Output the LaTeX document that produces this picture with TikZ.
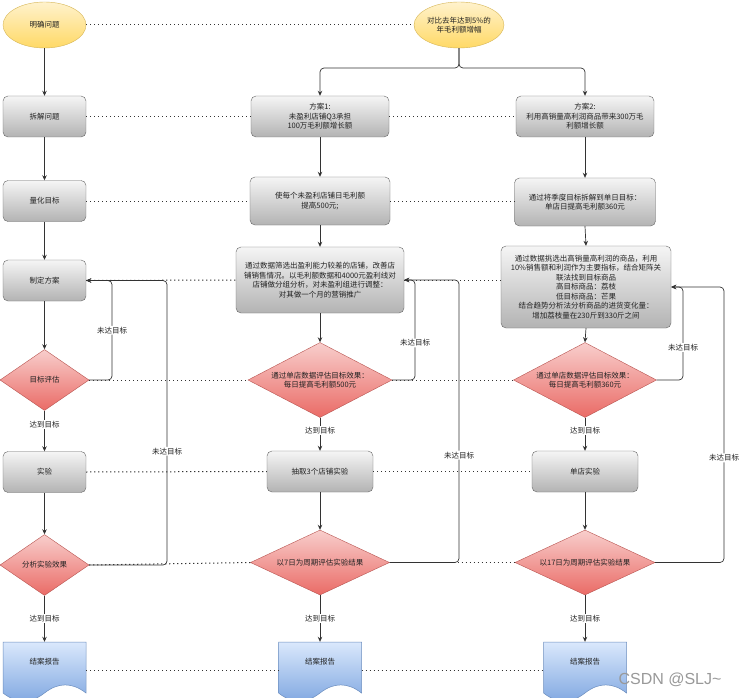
\documentclass[tikz,border=0pt]{standalone}
\usepackage{fontspec}
\setmainfont{Liberation Sans}
\newfontfamily\cjk{Noto Sans CJK SC}
\usetikzlibrary{shapes.geometric,arrows.meta,calc}
\definecolor{linec}{HTML}{333333}
\definecolor{txtc}{HTML}{222222}
\definecolor{boxtop}{HTML}{F5F5F5}
\definecolor{boxbot}{HTML}{B3B3B3}
\definecolor{boxdraw}{HTML}{666666}
\definecolor{elltop}{HTML}{FFF2CC}
\definecolor{ellbot}{HTML}{FFD966}
\definecolor{elldraw}{HTML}{D6B656}
\definecolor{diatop}{HTML}{F8CECC}
\definecolor{diabot}{HTML}{EA6B66}
\definecolor{diadraw}{HTML}{B85450}
\definecolor{doctop}{HTML}{DAE8FC}
\definecolor{docbot}{HTML}{7EA6E0}
\definecolor{docdraw}{HTML}{6C8EBF}
\tikzset{
  base/.style={font=\cjk\fontsize{7.5}{9.5}\selectfont, text=txtc, align=center, inner sep=1pt},
  procbox/.style={base, rectangle, rounded corners=5pt, draw=boxdraw, top color=boxtop, bottom color=boxbot},
  startell/.style={base, ellipse, draw=elldraw, top color=elltop, bottom color=ellbot, inner sep=0pt},
  decide/.style={base, diamond, aspect=2, inner sep=0pt, draw=diadraw, top color=diatop, bottom color=diabot},
  docfill/.style={draw=docdraw, top color=doctop, bottom color=docbot, line width=0.5pt},
  arr/.style={draw=linec, line width=0.7pt, -{Stealth[length=5pt,width=4.5pt]}},
  loopline/.style={arr, rounded corners=4pt},
  dotline/.style={draw=linec, line width=1pt, dash pattern=on 1.2pt off 2.8pt},
  lab/.style={font=\cjk\fontsize{7.5}{9}\selectfont, text=txtc, fill=white, inner sep=1pt}
}
\begin{document}
\begin{tikzpicture}[x=1pt,y=-1pt]
\useasboundingbox (0,0) rectangle (742,698);
\fill[white] (0,0) rectangle (742,698);

% documents (wavy bottoms)
\shade[docfill] (3,642) -- (86,642) -- (86,693) .. controls (72.2,682.2) and (58.3,682.2) .. (44.5,693) .. controls (30.7,703.8) and (16.8,703.8) .. (3,693) -- cycle;
\shade[docfill] (278.5,642) -- (361.5,642) -- (361.5,693) .. controls (347.7,682.2) and (333.8,682.2) .. (320,693) .. controls (306.2,703.8) and (292.3,703.8) .. (278.5,693) -- cycle;
\shade[docfill] (543.5,642) -- (626.5,642) -- (626.5,693) .. controls (612.7,682.2) and (598.8,682.2) .. (585,693) .. controls (571.2,703.8) and (557.3,703.8) .. (543.5,693) -- cycle;

% column 1
\node[startell, minimum width=83, minimum height=46] (e1) at (44.5,25) {明确问题};
\node[procbox, minimum width=83, minimum height=41] (b11) at (44.5,116.5) {拆解问题};
\node[procbox, minimum width=83, minimum height=41] (b21) at (44.5,201) {量化目标};
\node[procbox, minimum width=83, minimum height=41] (b31) at (44.5,280.5) {制定方案};
\node[decide, minimum width=89, minimum height=61] (d11) at (44.5,380) {目标评估};
\node[procbox, minimum width=83, minimum height=41] (b41) at (44.5,472) {实验};
\node[decide, minimum width=89, minimum height=61] (d21) at (44.5,565) {分析实验效果};
\node[base, minimum width=83, minimum height=40] (doc1) at (44.5,662) {结案报告};

% column 2
\node[startell, minimum width=80, minimum height=46] (e2) at (459,25) {对比去年达到5\%的\\年毛利额增幅};
\node[procbox, minimum width=138, minimum height=41] (p1) at (320,116.5) {方案1:\\未盈利店铺Q3承担\\100万毛利额增长额};
\node[procbox, minimum width=140, minimum height=48] (q1) at (320,201) {使每个未盈利店铺日毛利额\\提高500元;};
\node[procbox, minimum width=168, minimum height=66] (m1) at (320,280) {通过数据筛选出盈利能力较差的店铺，改善店\\铺销售情况。以毛利额数据和4000元盈利线对\\店铺做分组分析，对未盈利组进行调整：\\对其做一个月的营销推广};
\node[decide, minimum width=144, minimum height=75] (d12) at (320,380) {通过单店数据评估目标效果：\\每日提高毛利额500元};
\node[procbox, minimum width=106, minimum height=41] (x1) at (320,471.5) {抽取3个店铺实验};
\node[decide, minimum width=139, minimum height=65] (d22) at (320,562.5) {以7日为周期评估实验结果};
\node[base, minimum width=83, minimum height=40] (doc2) at (320,662) {结案报告};

% column 3
\node[procbox, minimum width=138, minimum height=41] (p2) at (585,116.5) {方案2:\\利用高销量高利润商品带来300万毛\\利额增长额};
\node[procbox, minimum width=141, minimum height=48] (q2) at (585,202) {通过将季度目标拆解到单日目标：\\单店日提高毛利额360元};
\node[procbox, minimum width=170, minimum height=82] (m2) at (586,287) {通过数据挑选出高销量高利润的商品，利用\\10\%销售额和利润作为主要指标，结合矩阵关\\联法找到目标商品\\高目标商品：荔枝\\低目标商品：芒果\\结合趋势分析法分析商品的进货变化量：\\增加荔枝量在230斤到330斤之间};
\node[decide, minimum width=143, minimum height=75] (d13) at (585,380) {通过单店数据评估目标效果：\\每日提高毛利额360元};
\node[procbox, minimum width=106, minimum height=41] (x2) at (585,471.5) {单店实验};
\node[decide, minimum width=140, minimum height=65] (d23) at (585,562.5) {以17日为周期评估实验结果};
\node[base, minimum width=83, minimum height=40] (doc3) at (585,662) {结案报告};

% dotted row links
\draw[dotline] (e1.east) -- (e2.west);
\draw[dotline] (b11.east) -- (p1.west);
\draw[dotline] (p1.east) -- (p2.west);
\draw[dotline] (b21.east) -- (q1.west);
\draw[dotline] (q1.east) -- (q2.west |- q1.east);
\draw[dotline] (b31.east) -- (m1.west);
\draw[dotline] (m1.east) -- (m2.west |- m1.east);
\draw[dotline] (d11.east) -- (d12.west);
\draw[dotline] (d12.east) -- (d13.west);
\draw[dotline] (b41.east) -- (x1.west);
\draw[dotline] (x1.east) -- (x2.west);
\draw[dotline] (d21.east) -- (d22.west);
\draw[dotline] (d22.east) -- (d23.west);
\draw[dotline] ([yshift=-8pt]doc1.east) -- ([yshift=-8pt]doc2.west);
\draw[dotline] ([yshift=-8pt]doc2.east) -- ([yshift=-8pt]doc3.west);

% column 1 flow
\draw[arr] (e1.south) -- (b11.north);
\draw[arr] (b11.south) -- (b21.north);
\draw[arr] (b21.south) -- (b31.north);
\draw[arr] (b31.south) -- (d11.north);
\draw[arr] (d11.south) -- node[lab, pos=0.35]{达到目标} (b41.north);
\draw[arr] (b41.south) -- (d21.north);
\draw[arr] (d21.south) -- node[lab]{达到目标} (doc1.north);

% split from goal
\draw[loopline] (e2.south) -- (459,68) -| (p1.north);
\draw[loopline] (e2.south) -- (459,68) -| (p2.north);

% column 2 flow
\draw[arr] (p1.south) -- (q1.north);
\draw[arr] (q1.south) -- (m1.north);
\draw[arr] (m1.south) -- (d12.north);
\draw[arr] (d12.south) -- node[lab, pos=0.4]{达到目标} (x1.north);
\draw[arr] (x1.south) -- (d22.north);
\draw[arr] (d22.south) -- node[lab]{达到目标} (doc2.north);

% column 3 flow
\draw[arr] (p2.south) -- (q2.north);
\draw[arr] (q2.south) -- (m2.north);
\draw[arr] (m2.south) -- (d13.north);
\draw[arr] (d13.south) -- node[lab, pos=0.4]{达到目标} (x2.north);
\draw[arr] (x2.south) -- (d23.north);
\draw[arr] (d23.south) -- node[lab]{达到目标} (doc3.north);

% feedback loops
\draw[loopline] (d11.east) -- (112,380) -- node[lab, pos=0.5]{未达目标} (112,280.5) -- (b31.east);
\draw[loopline] (d21.east) -- (167,565) -- node[lab, pos=0.4]{未达目标} (167,280.5) -- (b31.east);
\draw[loopline] (d12.east) -- (415,380) -- node[lab, pos=0.37]{未达目标} (415,280) -- (m1.east);
\draw[loopline] (d22.east) -- (459,562.5) -- node[lab, pos=0.38]{未达目标} (459,280) -- (m1.east);
\draw[loopline] (d13.east) -- (683,380) -- node[lab, pos=0.35]{未达目标} (683,287) -- (m2.east);
\draw[loopline] (d23.east) -- (724,562.5) -- node[lab, pos=0.38]{未达目标} (724,287) -- (m2.east);

% watermark
\node[font=\fontsize{16}{16}\selectfont, text=black!40, inner sep=0pt] (wm) at (670,680) {CSDN @SLJ\textasciitilde};
\end{tikzpicture}
\end{document}
